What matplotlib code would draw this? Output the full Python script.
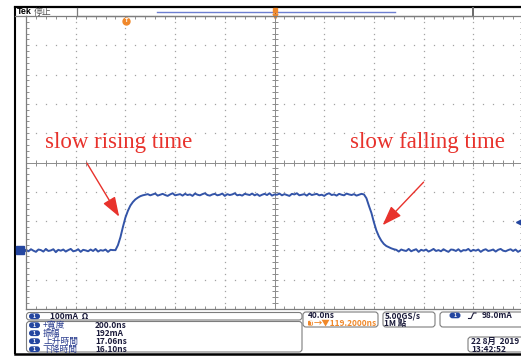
import numpy as np
import matplotlib
matplotlib.use("Agg")
import matplotlib.pyplot as plt
from matplotlib.patches import FancyBboxPatch
from matplotlib.transforms import blended_transform_factory

W, H, DPI = 521, 356, 100

# ---- acquisition settings -------------------------------------------------
time_per_div = 40.0        # ns / div
amp_per_div = 100.0        # mA / div
n_div = 10
t_left = -200.0            # ns at left edge of graticule
i_bottom = -200.0          # mA at bottom edge of graticule
sample_step = 2.0          # ns between plotted samples
trigger_time = -119.2      # ns
trigger_level = 98.0       # mA

# ---- captured current trace (mA) ------------------------------------------
trace_low_pre = [2, -3, 4, -1, -5, 3, 1, -4, 5, -2, 0, 4, -6, 2, -1, 3, -4, 1,
                 5, -3, -1, 4, -5, 2, 0, -3, 3, -2, 5, -4, 1, -1, 3, -5, 2, 1]
trace_rise = [1, 18, 45, 80, 112, 135, 153, 165, 174, 180, 185, 188, 190]
trace_high = [192, 188, 191, 194, 187, 190, 193, 189, 186, 191,
              195, 188, 190, 192, 187, 193, 189, 191, 186, 194,
              190, 188, 192, 195, 189, 187, 191, 193, 188, 190,
              194, 186, 192, 189, 191, 195, 188, 190, 187, 193,
              191, 189, 194, 188, 192, 186, 190, 193, 189, 195,
              187, 191, 190, 194, 188, 192, 189, 186, 193, 191,
              195, 188, 190, 192, 187, 194, 189, 191, 193, 188,
              190, 186, 192, 195, 189, 191, 187, 193, 190, 188,
              194, 191, 189, 192, 187, 190, 193]
trace_fall = [191, 178, 152, 128, 96, 68, 48, 33, 22, 15, 11, 7, 4]
trace_low_post = [2, -4, 3, 0, -2, 5, -3, 1, 4, -5, 2, -1, 3, -4, 0, 5, -2, 1,
                  -3, 4, -1, -5, 3, 2, -2, 4, -4, 1, 0, 5, -3, 2, -1, 3, -5, 1,
                  4, -2, 0, 3, -4, 2, 5, -1, -3, 1, 4, -2, 3, -5, 0, 2]

# ---- readouts --------------------------------------------------------------
ch_scale_text = "100mA  Ω"
meas_labels = ["+寬度", "振幅", "上升時間", "下降時間"]
meas_values = ["200.0ns", "192mA", "17.06ns", "16.10ns"]
timebase_text = "40.0ns"
position_text = "→▼119.2000ns"
rate_text = "5.00GS/s"
length_text = "1M 點"
trig_text = "98.0mA"
date_text = "22 8月  2019"
clock_text = "13:42:52"

rise_note = "slow rising time"
fall_note = "slow falling time"

# ---- style -----------------------------------------------------------------
TRACE = "#3354a8"
CH_BLUE = "#2446a0"
GRID = "#a3a3a3"
FRAME = "#7d7d7d"
NOTE_RED = "#e8322c"
ORANGE = "#f0882a"
UI_FONT = ["Liberation Sans Narrow", "Noto Sans CJK TC", "DejaVu Sans"]
CJK_FONT = ["Noto Sans CJK TC", "DejaVu Sans"]

fig = plt.figure(figsize=(W / DPI, H / DPI), dpi=DPI)
fig.patch.set_facecolor("white")

# background layer in pixel units for bezels and readout boxes
bg = fig.add_axes([0, 0, 1, 1], zorder=0)
bg.set_xlim(0, W)
bg.set_ylim(H, 0)
bg.axis("off")

# graticule axes
gx0, gy_top, gw, gh = 26, 16, 497, 293
ax = fig.add_axes([gx0 / W, (H - gy_top - gh) / H, gw / W, gh / H], zorder=1)
ax.set_facecolor("none")
t_right = t_left + n_div * time_per_div
i_top = i_bottom + n_div * amp_per_div
ax.set_xlim(t_left, t_right)
ax.set_ylim(i_bottom, i_top)

for s in ax.spines.values():
    s.set_color(FRAME)
    s.set_linewidth(0.9)
ax.set_xticks(np.arange(t_left, t_right + 0.1, time_per_div / 5))
ax.set_yticks(np.arange(i_bottom, i_top + 0.1, amp_per_div / 5))
ax.tick_params(which="both", direction="in", length=2.2, width=0.6, color=FRAME,
               top=True, right=True, labelbottom=False, labelleft=False)

t_mid = (t_left + t_right) / 2
i_mid = (i_bottom + i_top) / 2
minor_t = np.arange(t_left, t_right + 0.1, time_per_div / 5)
minor_i = np.arange(i_bottom, i_top + 0.1, amp_per_div / 5)

# dotted division lines
for k in range(1, n_div):
    tv = t_left + k * time_per_div
    if abs(tv - t_mid) > 1e-6:
        ax.plot(np.full_like(minor_i, tv), minor_i, ls="none", marker="s",
                ms=0.9, mew=0, color=GRID)
    iv = i_bottom + k * amp_per_div
    if abs(iv - i_mid) > 1e-6:
        ax.plot(minor_t, np.full_like(minor_t, iv), ls="none", marker="s",
                ms=0.9, mew=0, color=GRID)

# centre cross with minor ticks
ax.axvline(t_mid, color="#8c8c8c", lw=0.7)
ax.axhline(i_mid, color="#8c8c8c", lw=0.7)
ax.plot(np.full_like(minor_i, t_mid), minor_i, ls="none", marker="_", ms=3.8,
        mew=0.7, color="#8c8c8c")
ax.plot(minor_t, np.full_like(minor_t, i_mid), ls="none", marker="|", ms=3.8,
        mew=0.7, color="#8c8c8c")

# waveform
trace = np.array(trace_low_pre + trace_rise + trace_high + trace_fall + trace_low_post,
                 dtype=float)
t = t_left + sample_step * np.arange(len(trace))
ax.plot(t, trace, color=TRACE, lw=1.4, solid_joinstyle="round")

# channel ground and trigger level markers
bx = blended_transform_factory(ax.transAxes, ax.transData)
ax.plot([-0.013], [0], marker="s", ms=5.5, color=CH_BLUE, transform=bx, clip_on=False)
ax.plot([-0.004], [0], marker=">", ms=3.5, color=CH_BLUE, transform=bx, clip_on=False)
ax.plot([0.992], [trigger_level], marker="<", ms=4, color=CH_BLUE, transform=bx,
        clip_on=False)

# trigger position marker
by = blended_transform_factory(ax.transData, ax.transAxes)
ax.plot([trigger_time], [0.983], marker="o", ms=5, color=ORANGE, transform=by,
        clip_on=False)
ax.text(trigger_time, 0.983, "T", transform=by, color="white", fontsize=3.5,
        fontweight="bold", ha="center", va="center")

# annotations
ax.text(-185, 349, rise_note, family=["Liberation Serif", "DejaVu Serif"],
        fontsize=16.5, color=NOTE_RED, va="baseline", ha="left")
ax.text(60.5, 349, fall_note, family=["Liberation Serif", "DejaVu Serif"],
        fontsize=16.5, color=NOTE_RED, va="baseline", ha="left")
arrow_style = dict(arrowstyle="-|>,head_length=0.8,head_width=0.28",
                   color=NOTE_RED, lw=1.0, mutation_scale=15,
                   shrinkA=0, shrinkB=0)
ax.annotate("", xy=(-125, 115), xytext=(-151, 298), arrowprops=arrow_style)
ax.annotate("", xy=(87, 86), xytext=(120, 233), arrowprops=arrow_style)

# ---- bezel -----------------------------------------------------------------
bg.plot([15, 15], [7, 354], color="black", lw=1.5, solid_capstyle="butt")
bg.plot([15, W], [7, 7], color="black", lw=1.6)
bg.plot([15, W], [354, 354], color="black", lw=1.8)
bg.plot([15, 26], [16, 16], color=FRAME, lw=0.9)
bg.plot([77, 77], [8, 16], color=FRAME, lw=0.9)
bg.plot([473, 473], [8, 16], color="#6a6a6a", lw=1.4)
bg.plot([77, 473], [16, 16], color=FRAME, lw=0.9)
bg.plot([157, 395], [12, 12], color="#6c7ed0", lw=1.0)
bg.plot([275, 275], [8, 17], color="black", lw=0.8)
bg.plot([275], [9.5], marker="s", ms=3, color=ORANGE)
bg.plot([275], [15.5], marker="v", ms=3.5, color=ORANGE)
bg.text(17, 12, "Tek", fontsize=6.4, fontweight="bold", family=["Liberation Sans", "DejaVu Sans"],
        va="center", ha="left", color="black")
bg.text(34, 12, "停止", fontsize=6.4, family=CJK_FONT, va="center", ha="left",
        color="#555555")


def box(x0, y0, x1, y1):
    bg.add_patch(FancyBboxPatch((x0, y0), x1 - x0, y1 - y0,
                                boxstyle="round,pad=0,rounding_size=3",
                                fc="white", ec=FRAME, lw=0.8))


def ch_badge(xc, yc):
    bg.add_patch(FancyBboxPatch((xc - 5.5, yc - 2.9), 11, 5.8,
                                boxstyle="round,pad=0,rounding_size=2.9",
                                fc=CH_BLUE, ec="none"))
    bg.text(xc, yc, "1", fontsize=4.0, fontweight="bold", color="white",
            ha="center", va="center", family=["Liberation Sans", "DejaVu Sans"])


def ui(x, y, s, color="#1a1a3a", **kw):
    bg.text(x, y, s, fontsize=6.0, fontweight="bold", family=UI_FONT, color=color,
            ha="left", va="center", **kw)


box(26.5, 312.5, 302, 320)
box(26.5, 321.5, 302, 352)
box(303, 312, 378, 327)
box(383, 312, 435, 327)
box(440, 312, 532, 327)
box(468, 337, 532, 352)

ch_badge(34.5, 316.3)
ui(50, 316.3, ch_scale_text)
for k, (lab, val) in enumerate(zip(meas_labels, meas_values)):
    yk = 325.2 + 8.0 * k
    ch_badge(34.5, yk)
    bg.text(43, yk, lab, fontsize=6.3, family=CJK_FONT, color="#2a3d8f",
            ha="left", va="center")
    ui(95, yk, val)

ui(308, 315.6, timebase_text)
bg.add_patch(FancyBboxPatch((308, 320.8), 4.8, 4.8, boxstyle="round,pad=0,rounding_size=1",
                            fc=ORANGE, ec="none"))
bg.text(310.4, 323.2, "T", fontsize=3.4, fontweight="bold", color="white",
        ha="center", va="center")
ui(313.5, 323.4, position_text, color=ORANGE)
ui(384.5, 315.6, rate_text)
ui(384.5, 323.6, length_text)

ch_badge(455, 315.4)
bg.plot([468.5, 471, 473.5, 476], [318.5, 318.5, 313, 313], color="#1a1a3a", lw=0.8)
ui(482, 315.6, trig_text)
ui(471, 341.6, date_text)
ui(471, 349.2, clock_text)

fig.savefig("out.png", dpi=DPI, facecolor="white")
